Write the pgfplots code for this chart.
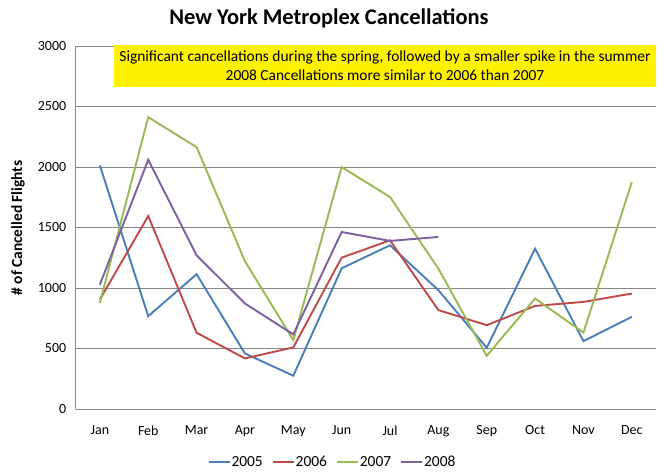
\documentclass[border=0pt]{standalone}
\usepackage{fontspec}
\setmainfont{Carlito}
\usepackage{pgfplots}
\pgfplotsset{compat=1.18}
\definecolor{cA}{HTML}{4A7EBB}
\definecolor{cB}{HTML}{BE4B48}
\definecolor{cC}{HTML}{98B954}
\definecolor{cD}{HTML}{7D60A0}
\definecolor{gridgray}{HTML}{868686}
\begin{document}
\begin{tikzpicture}
\path[use as bounding box] (0,0) rectangle (668bp,472bp);
\begin{axis}[
  at={(75.7bp,63bp)}, anchor=south west,
  scale only axis, width=580.3bp, height=363bp,
  xmin=-0.5, xmax=11.5, ymin=0, ymax=3000,
  xtick={0,...,11},
  xticklabels={Jan,Feb,Mar,Apr,May,Jun,Jul,Aug,Sep,Oct,Nov,Dec},
  ytick={0,500,...,3000},
  ymajorgrids,
  grid style={gridgray, line width=0.7bp},
  axis x line*=bottom, axis y line*=left,
  axis line style={gridgray, line width=0.7bp, -},
  major tick length=0pt,
  tick label style={font=\fontsize{14}{16}\selectfont},
  /pgf/number format/assume math mode=true,
  /pgf/number format/1000 sep={},
  yticklabel style={xshift=-6bp},
  xticklabel style={yshift=-13bp},
  every axis plot/.append style={line width=1.9bp, mark=none},
  legend columns=4,
  legend style={at={(0.4417,-0.146)}, anchor=center, draw=none, fill=none,
    font=\fontsize{15.5}{17}\selectfont, /tikz/every even column/.append style={column sep=8bp},
    nodes={inner xsep=1bp}},
  legend image code/.code={\draw[#1] (0bp,0bp) -- (21bp,0bp);},
]
\addplot[cA] coordinates {(0,2013)(1,767)(2,1114)(3,459)(4,275)(5,1163)(6,1353)(7,982)(8,506)(9,1325)(10,561)(11,762)};
\addlegendentry{2005}
\addplot[cB] coordinates {(0,905)(1,1595)(2,630)(3,418)(4,509)(5,1251)(6,1394)(7,817)(8,693)(9,852)(10,885)(11,954)};
\addlegendentry{2006}
\addplot[cC] coordinates {(0,877)(1,2412)(2,2164)(3,1221)(4,569)(5,1999)(6,1752)(7,1160)(8,440)(9,913)(10,632)(11,1875)};
\addlegendentry{2007}
\addplot[cD] coordinates {(0,1028)(1,2060)(2,1270)(3,872)(4,616)(5,1463)(6,1389)(7,1422)};
\addlegendentry{2008}
\end{axis}
\node[font=\bfseries\fontsize{22.5}{24}\selectfont] at (329bp,454bp) {New York Metroplex Cancellations};
\node[font=\bfseries\fontsize{15.5}{17}\selectfont, rotate=90] at (18bp,244bp) {\# of Cancelled Flights};
\node[fill=yellow, minimum width=542bp, minimum height=42bp, inner sep=0pt, align=center,
  font=\fontsize{15.5}{19}\selectfont] at (385bp,406bp)
  {Significant cancellations during the spring, followed by a smaller spike in the summer\\2008 Cancellations more similar to 2006 than 2007};
\end{tikzpicture}
\end{document}
